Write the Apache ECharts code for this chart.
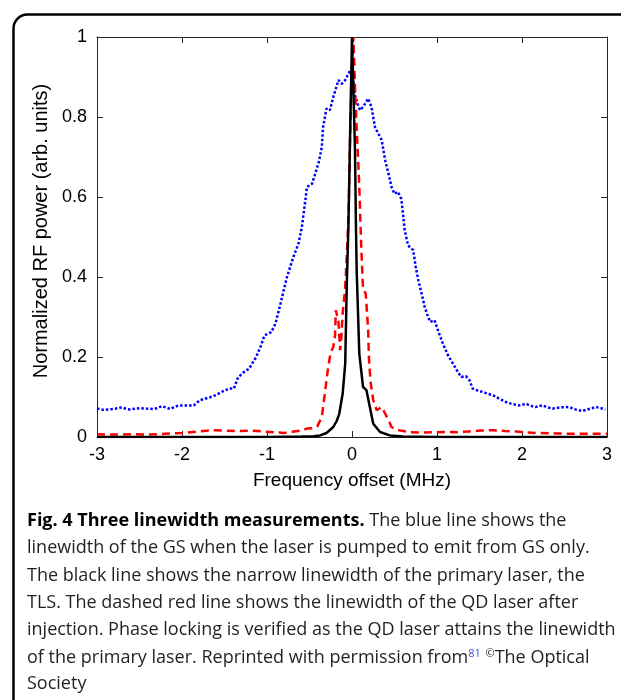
<!DOCTYPE html>
<html>
<head>
<meta charset="utf-8">
<script src="https://cdn.jsdelivr.net/npm/echarts@6/dist/echarts.min.js"></script>
<style>
  html, body { margin: 0; padding: 0; background: #fff; }
  #chart { width: 621px; height: 700px; }
</style>
</head>
<body>
<div id="chart"></div>
<script>
// Frequency offset (MHz) and normalized RF power for the three spectra
const gsX = [-3.00,-2.93,-2.85,-2.78,-2.71,-2.65,-2.61,-2.55,-2.50,-2.42,-2.33,-2.28,-2.24,-2.19,-2.14,-2.09,-2.04,-1.95,-1.86,-1.79,-1.71,-1.63,-1.54,-1.45,-1.39,-1.34,-1.28,-1.21,-1.13,-1.07,-1.03,-0.95,-0.90,-0.84,-0.80,-0.765,-0.72,-0.69,-0.63,-0.59,-0.55,-0.53,-0.47,-0.43,-0.39,-0.355,-0.34,-0.30,-0.26,-0.22,-0.16,-0.12,-0.08,-0.03,0.00,0.035,0.07,0.094,0.13,0.19,0.23,0.27,0.31,0.35,0.39,0.43,0.465,0.50,0.54,0.58,0.60,0.62,0.66,0.72,0.75,0.78,0.82,0.855,0.895,0.92,0.97,1.01,1.07,1.13,1.19,1.245,1.285,1.34,1.38,1.42,1.48,1.54,1.60,1.66,1.73,1.81,1.89,1.97,2.05,2.10,2.16,2.24,2.30,2.36,2.45,2.55,2.63,2.71,2.79,2.87,2.93,2.98];
const gsY = [0.071,0.068,0.069,0.071,0.074,0.070,0.069,0.071,0.072,0.071,0.070,0.073,0.077,0.074,0.070,0.075,0.079,0.079,0.079,0.092,0.097,0.102,0.112,0.121,0.121,0.149,0.161,0.171,0.199,0.229,0.254,0.262,0.284,0.334,0.370,0.400,0.430,0.450,0.483,0.525,0.590,0.625,0.633,0.660,0.688,0.725,0.775,0.821,0.817,0.850,0.892,0.883,0.892,0.913,0.920,0.854,0.830,0.817,0.825,0.846,0.825,0.775,0.758,0.742,0.692,0.658,0.625,0.608,0.613,0.595,0.558,0.517,0.479,0.467,0.425,0.392,0.358,0.325,0.300,0.2875,0.292,0.267,0.233,0.204,0.183,0.1625,0.150,0.152,0.143,0.121,0.116,0.1125,0.108,0.104,0.096,0.0875,0.082,0.079,0.083,0.078,0.075,0.079,0.074,0.071,0.074,0.075,0.069,0.065,0.070,0.075,0.072,0.0685];

const qdX = [-3.00,-2.80,-2.60,-2.40,-2.20,-2.00,-1.80,-1.63,-1.50,-1.36,-1.20,-1.05,-0.93,-0.80,-0.70,-0.60,-0.53,-0.45,-0.41,-0.355,-0.32,-0.28,-0.25,-0.22,-0.20,-0.19,-0.16,-0.14,-0.13,-0.11,-0.08,-0.06,-0.04,-0.02,0.00,0.016,0.035,0.055,0.075,0.09,0.10,0.11,0.13,0.16,0.17,0.19,0.20,0.22,0.25,0.29,0.31,0.35,0.37,0.41,0.445,0.465,0.52,0.60,0.68,0.80,0.95,1.11,1.25,1.38,1.52,1.66,1.80,1.93,2.06,2.20,2.40,2.60,2.80,3.00];
const qdY = [0.007,0.006,0.007,0.006,0.008,0.010,0.014,0.017,0.016,0.015,0.016,0.014,0.012,0.010,0.013,0.016,0.021,0.022,0.026,0.050,0.108,0.175,0.2125,0.225,0.254,0.317,0.290,0.217,0.234,0.308,0.375,0.458,0.560,0.780,0.930,1.000,0.880,0.770,0.680,0.600,0.530,0.470,0.367,0.360,0.333,0.267,0.192,0.135,0.092,0.067,0.062,0.075,0.067,0.050,0.035,0.025,0.018,0.015,0.012,0.011,0.012,0.0125,0.012,0.014,0.016,0.017,0.015,0.014,0.011,0.010,0.009,0.008,0.008,0.008];

const tlsX = [-3.0,-1.0,-0.6,-0.45,-0.375,-0.30,-0.22,-0.18,-0.15,-0.11,-0.08,-0.062,-0.043,-0.02,0.0,0.016,0.035,0.047,0.055,0.086,0.13,0.17,0.21,0.25,0.33,0.445,0.6,1.0,3.0];
const tlsY = [0.0,0.0,0.001,0.002,0.004,0.010,0.025,0.040,0.058,0.108,0.183,0.375,0.520,0.780,1.000,1.000,0.720,0.520,0.417,0.208,0.125,0.117,0.075,0.033,0.0125,0.004,0.001,0.0,0.0];

const xTicks = [-3, -2, -1, 0, 1, 2, 3];
const yTicks = [0, 0.2, 0.4, 0.6, 0.8, 1];

const xName = 'Frequency offset (MHz)';
const yName = 'Normalized RF power (arb. units)';

const captionLines = [
  '{b|Fig. 4 Three linewidth measurements.} The blue line shows the',
  'linewidth of the GS when the laser is pumped to emit from GS only.',
  'The black line shows the narrow linewidth of the primary laser, the',
  'TLS. The dashed red line shows the linewidth of the QD laser after',
  'injection. Phase locking is verified as the QD laser attains the linewidth',
  'of the primary laser. Reprinted with permission from{ref|81} {sup|©}The Optical',
  'Society'
];

const zip = (xs, ys) => xs.map((x, i) => [x, ys[i]]);

const axisColor = '#262626';
const sans = 'Liberation Sans, Arial, sans-serif';
const tickFont = { fontFamily: sans, fontSize: 18, color: '#000' };

// Shared frame settings for every side of the box: inward ticks, no zero crossing
function frameAxis(extra) {
  return Object.assign({
    axisLine: { show: true, onZero: false, lineStyle: { color: axisColor, width: 1 } },
    axisTick: { show: true, inside: true, length: 6, lineStyle: { color: axisColor } },
    splitLine: { show: false }
  }, extra);
}

const chart = echarts.init(document.getElementById('chart'), null, { renderer: 'canvas' });

const capFont = '"Open Sans", sans-serif';
const capGraphics = captionLines.map((t, i) => ({
  type: 'text',
  left: 27,
  top: 512 + i * 27.2,
  z: 10,
  style: {
    text: t,
    fontFamily: capFont,
    fontSize: 18,
    fill: '#231f20',
    rich: {
      b: { fontFamily: capFont, fontSize: 18, fontWeight: 'bold', fill: '#000' },
      ref: { fontFamily: capFont, fontSize: 11, fill: '#3b5bdb', verticalAlign: 'top', padding: [0, 0, 9, 0] },
      sup: { fontFamily: capFont, fontSize: 11, fill: '#231f20', verticalAlign: 'top', padding: [0, 0, 9, 0] }
    }
  }
}));

chart.setOption({
  animation: false,
  backgroundColor: '#fff',
  grid: { left: 97, right: 14, top: 37, bottom: 263, containLabel: false },
  xAxis: [
    frameAxis({
      type: 'value', min: xTicks[0], max: xTicks[xTicks.length - 1], interval: 1,
      position: 'bottom',
      name: xName, nameLocation: 'middle', nameGap: 34,
      nameTextStyle: { fontFamily: sans, fontSize: 19, color: '#000' },
      axisLabel: Object.assign({ margin: 9 }, tickFont)
    }),
    frameAxis({
      type: 'value', min: xTicks[0], max: xTicks[xTicks.length - 1], interval: 1,
      position: 'top',
      axisLabel: { show: false }
    })
  ],
  yAxis: [
    frameAxis({
      type: 'value', min: yTicks[0], max: yTicks[yTicks.length - 1], interval: 0.2,
      position: 'left',
      name: yName, nameLocation: 'middle', nameGap: 41, nameRotate: 90,
      nameTextStyle: { fontFamily: sans, fontSize: 20, color: '#000', padding: [0, 0, 0, 12] },
      axisLabel: Object.assign({ margin: 10 }, tickFont)
    }),
    frameAxis({
      type: 'value', min: yTicks[0], max: yTicks[yTicks.length - 1], interval: 0.2,
      position: 'right',
      axisLabel: { show: false }
    })
  ],
  series: [
    {
      name: 'GS', type: 'line', data: zip(gsX, gsY), showSymbol: false, symbol: 'none',
      lineStyle: { color: '#0000ff', width: 2.5, type: [2.5, 2] }, z: 2
    },
    {
      name: 'QD injected', type: 'line', data: zip(qdX, qdY), showSymbol: false, symbol: 'none',
      lineStyle: { color: '#ff0000', width: 2.5, type: [8, 5] }, z: 3
    },
    {
      name: 'TLS', type: 'line', data: zip(tlsX, tlsY), showSymbol: false, symbol: 'none',
      lineStyle: { color: '#000', width: 2.5 }, z: 4
    }
  ],
  graphic: [
    {
      type: 'rect', left: 11, top: 12, z: 20, silent: true,
      shape: { width: 700, height: 800, r: 14 },
      style: { fill: 'none', stroke: '#000', lineWidth: 2.5 }
    }
  ].concat(capGraphics)
});
</script>
</body>
</html>
